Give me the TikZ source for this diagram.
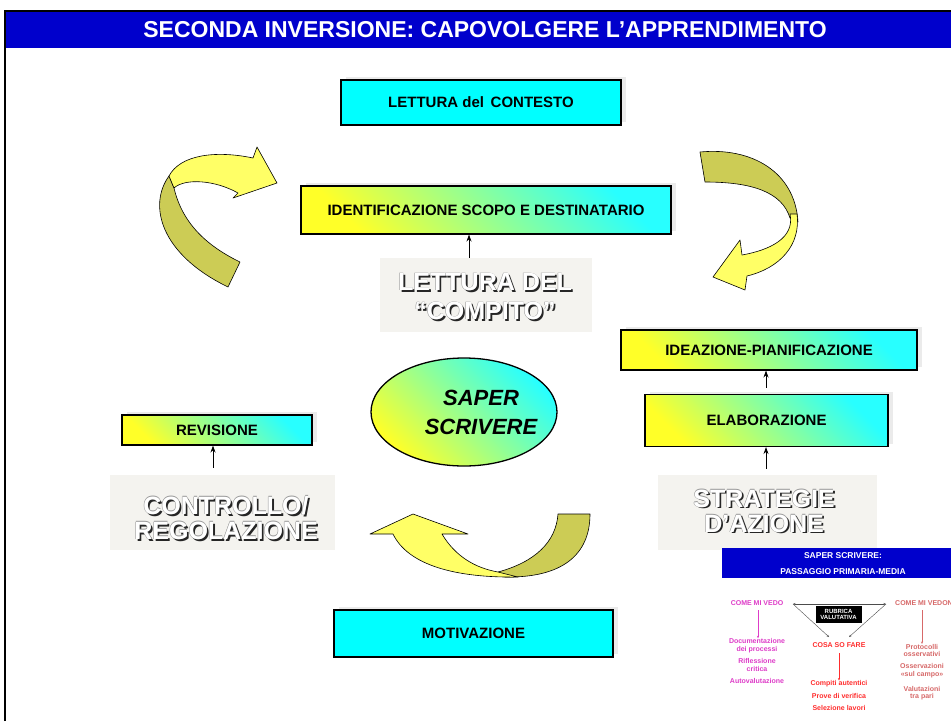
\documentclass[tikz,border=0pt]{standalone}
\usepackage{fontspec}
\setmainfont{Liberation Sans}
\usetikzlibrary{arrows.meta,shapes.geometric,shadows,calc}
\definecolor{bannerblue}{RGB}{0,0,204}
\definecolor{rbyellow}{RGB}{255,255,102}
\definecolor{rbolive}{RGB}{204,204,85}
\definecolor{boxcyan}{RGB}{0,255,255}
\definecolor{gyellow}{RGB}{255,255,40}
\definecolor{gcyan}{RGB}{40,255,255}
\definecolor{paper}{RGB}{244,243,239}
\definecolor{magt}{RGB}{222,60,200}
\definecolor{redt}{RGB}{255,45,45}
\definecolor{pinkt}{RGB}{215,105,105}
\newcommand\embossed[4]{%
  \node[bigtxt,#4,text=black!85] at ($#2+(1.8,1.8)$) {#3};
  \foreach \dx/\dy in {-0.5/0,0/-0.5}{%
    \node[bigtxt,#4,text=black!40] at ($#2+(\dx,\dy)$) {#3};}
  \node[bigtxt,#4,text=white] (#1) at #2 {#3};}
\begin{document}
\begin{tikzpicture}[x=1pt,y=-1pt,
  every node/.style={inner sep=0pt},
  boxshadow/.style={general shadow={fill=black!8, shadow xshift=5pt, shadow yshift=3pt}},
  gbox/.style={draw=black, line width=1.1pt, boxshadow, shading=axis,
    top color=gcyan, bottom color=gyellow, shading angle=-45,
    font=\bfseries\fontsize{15}{18}\selectfont},
  cbox/.style={draw=black, line width=1.1pt, boxshadow, fill=boxcyan,
    font=\bfseries\fontsize{15}{18}\selectfont},
  paperbox/.style={fill=paper},
  bigtxt/.style={align=center, font=\bfseries\fontsize{25}{29}\selectfont},
  arr/.style={-{Stealth[length=7pt,width=5pt]}, line width=0.9pt},
  rib/.style={draw=black, line width=0.6pt, line join=round},
  itxt/.style={align=center, font=\bfseries\fontsize{7}{7.5}\selectfont},
  iarr/.style={-{Stealth[length=2.5pt,width=2pt]}, line width=0.4pt}]
\useasboundingbox (0,0) rectangle (951,721);
\clip (0,0) rectangle (951,721);
\fill[white] (0,0) rectangle (951,721);
% frame and title
\draw[line width=2pt] (5,721) -- (5,11) -- (951,11);
\node[fill=bannerblue, minimum width=945, minimum height=36, anchor=north west] (banner) at (6,12) {};
\node[text=white, font=\bfseries\fontsize{23}{26}\selectfont] (title) at (485,30) {SECONDA INVERSIONE: CAPOVOLGERE L’APPRENDIMENTO};
% ribbons
\draw[rib, fill=rbolive] (169,176) .. controls (148,205) and (160,254) .. (228,287) -- (240,262) .. controls (205,245) and (182,222) .. (174,188) -- cycle;
\draw[rib, fill=rbyellow] (169,176) .. controls (180,155) and (215,150) .. (253,158) -- (257,147) -- (277,183) -- (233,198) -- (238,193) .. controls (215,180) and (185,178) .. (174,188) -- cycle;
\draw[rib, fill=rbolive] (700,152) .. controls (752,147) and (795,172) .. (798,222) -- (790,218) .. controls (782,192) and (752,182) .. (705,182) -- cycle;
\draw[rib, fill=rbyellow] (790,214) .. controls (795,238) and (770,250) .. (742,255) -- (740,240) -- (713,277) -- (745,290) -- (747,276) .. controls (780,268) and (801,245) .. (797,214) -- cycle;
\draw[rib, fill=rbolive] (558,514) -- (590,514) .. controls (590,555) and (562,578) .. (505,577) -- (498,572) .. controls (535,562) and (556,542) .. (558,514) -- cycle;
\draw[rib, fill=rbyellow] (393,534) -- (370,534) -- (413,514) -- (468,534) -- (442,534) .. controls (455,556) and (475,568) .. (498,572) -- (518,577) .. controls (455,578) and (408,565) .. (393,534) -- cycle;
% boxes
\node[cbox, minimum width=280, minimum height=45] (ctx) at (481,102.5) {LETTURA del\, CONTESTO};
\node[gbox, minimum width=370, minimum height=48] (ident) at (486,210) {IDENTIFICAZIONE SCOPO E DESTINATARIO};
\node[paperbox, minimum width=212, minimum height=74] (compito) at (486,295) {};
\embossed{compitotxt}{(485,297)}{LETTURA DEL\\“COMPITO”}{}
\node[draw=black, line width=1.3pt, ellipse, shading=axis, top color=gcyan, bottom color=gyellow, shading angle=-45, minimum width=186, minimum height=108] (core) at (464,412) {};
\node[align=center, font=\bfseries\itshape\fontsize{22}{29}\selectfont] (coretxt) at (481,412) {SAPER\\SCRIVERE};
\node[gbox, minimum width=296, minimum height=40] (idea) at (769,350) {IDEAZIONE-PIANIFICAZIONE};
\node[gbox, minimum width=243, minimum height=52] (elab) at (766.5,420.5) {ELABORAZIONE};
\node[paperbox, minimum width=219, minimum height=75] (strat) at (767.5,512.5) {};
\embossed{strattxt}{(764,511)}{STRATEGIE\\D’AZIONE}{font=\bfseries\fontsize{25}{25}\selectfont}
\node[gbox, minimum width=190, minimum height=30] (rev) at (217,430) {REVISIONE};
\node[paperbox, minimum width=225, minimum height=75] (contr) at (222.5,512.5) {};
\embossed{contrtxt}{(226,518)}{CONTROLLO/\\REGOLAZIONE}{font=\bfseries\fontsize{25}{25}\selectfont}
\node[cbox, minimum width=279, minimum height=47] (motiv) at (473.5,633.5) {MOTIVAZIONE};
% connectors
\coordinate (ax1) at (469,0);
\coordinate (ax2) at (213,0);
\coordinate (ax3) at (766,0);
\draw[arr] (compito.north -| ax1) -- (ident.south -| ax1);
\draw[arr, shorten <=6pt] (strat.north -| ax3) -- (elab.south -| ax3);
\draw[arr, shorten <=6pt] (elab.north -| ax3) -- (idea.south -| ax3);
\draw[arr, shorten <=7pt] (contr.north -| ax2) -- (rev.south -| ax2);
% inset
\node[fill=bannerblue, minimum width=229, minimum height=30, anchor=north west] (ibanner) at (722,548) {};
\node[text=white, font=\bfseries\fontsize{8.5}{9}\selectfont] (ib1) at (843,555.5) {SAPER SCRIVERE:};
\node[text=white, font=\bfseries\fontsize{8.5}{9}\selectfont] (ib2) at (843,572) {PASSAGGIO PRIMARIA-MEDIA};
\node[itxt, text=magt] (vedo) at (757,603) {COME MI VEDO};
\node[itxt, text=pinkt, anchor=west] (vedono) at (895,603) {COME MI VEDONO};
\node[itxt, text=redt] (cosa) at (839,645) {COSA SO FARE};
\coordinate (tl) at (793,604);
\coordinate (tr) at (886,604);
\coordinate (bl) at (829,637);
\coordinate (br) at (849,637);
\draw[iarr, black!70, {Stealth[length=2.5pt,width=2pt]}-{Stealth[length=2.5pt,width=2pt]}] (tl) -- (tr);
\draw[iarr, black!70] (tl) -- (bl);
\draw[iarr, black!70] (tr) -- (br);
\node[fill=black, text=white, align=center, minimum width=46, minimum height=17, font=\bfseries\fontsize{6}{6.5}\selectfont] (rubrica) at (838.5,614.5) {RUBRICA\\VALUTATIVA};
\node[itxt, text=magt] (doc) at (757,645.5) {Documentazione\\dei processi};
\node[itxt, text=magt] (rifl) at (757,665) {Riflessione\\critica};
\node[itxt, text=magt] (auto) at (757,681) {Autovalutazione};
\coordinate (v1) at (758,610);
\draw[iarr, magt] (v1) -- (doc.north -| v1);
\node[itxt, text=redt] (comp) at (839,684) {Compiti autentici};
\node[itxt, text=redt] (prove) at (839,696) {Prove di verifica};
\node[itxt, text=redt] (sel) at (839,708) {Selezione lavori};
\coordinate (c1) at (839,653);
\draw[iarr, redt] (c1) -- (comp.north -| c1);
\node[itxt, text=pinkt] (proto) at (922,650.5) {Protocolli\\osservativi};
\node[itxt, text=pinkt] (oss) at (922,670.5) {Osservazioni\\«sul campo»};
\node[itxt, text=pinkt] (val) at (922,693) {Valutazioni\\tra pari};
\coordinate (vn) at (922,610);
\draw[iarr, pinkt] (vn) -- (proto.north);
\end{tikzpicture}
\end{document}
